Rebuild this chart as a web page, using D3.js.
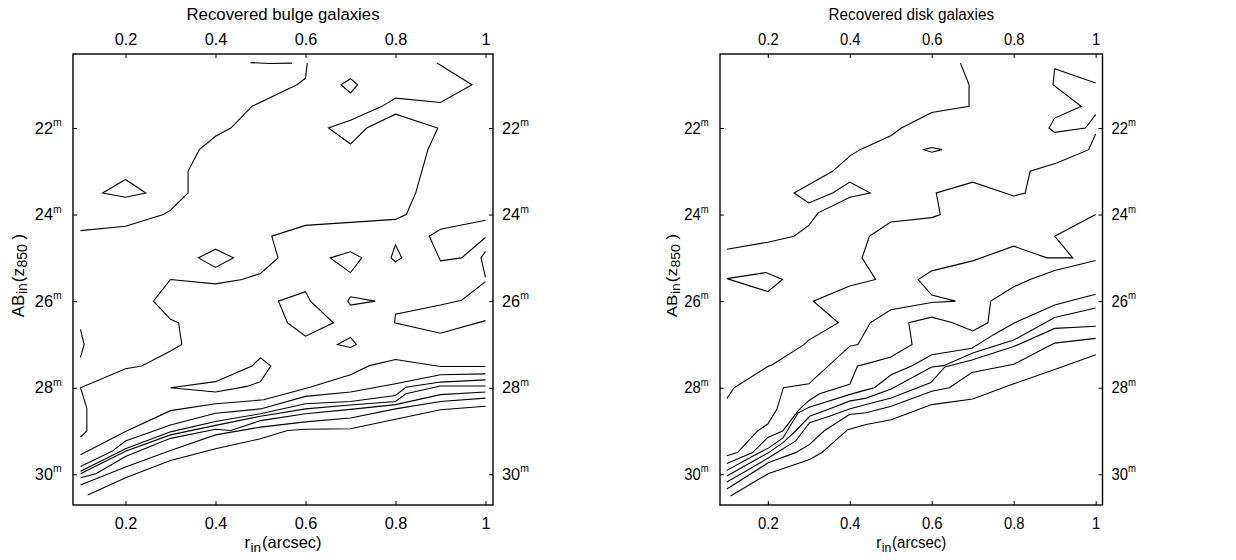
<!DOCTYPE html>
<html>
<head>
<meta charset="utf-8">
<script src="https://cdn.jsdelivr.net/npm/d3@7"></script>
<style>
  html, body { margin: 0; padding: 0; background: #fff; }
  svg { display: block; font-family: "Liberation Sans", Arial, Helvetica, sans-serif; }
</style>
</head>
<body>
<svg id="chart" width="1236" height="560"></svg>
<script>
// Axis values
const rTicks = [0.2, 0.4, 0.6, 0.8, 1];
const magTicks = [22, 24, 26, 28, 30];
const rDomain = [0.0833, 1.0167];
const magDomain = [20.29, 30.71];

// Contours of the bulge-galaxy recovery map, points are [r_in, AB_in]
const bulgeOpen = [
  [[0.604,20.5],[0.6,20.85],[0.581,21.0],[0.481,21.5],[0.434,22.0],[0.4,22.19],[0.364,22.5],[0.339,23.0],[0.339,23.5],[0.3,23.9],[0.284,24.0],[0.2,24.27],[0.1,24.37]],
  [[0.478,20.49],[0.52,20.51],[0.57,20.5]],
  [[0.892,20.5],[0.97,21.0],[0.9,21.41],[0.8,21.31],[0.77,21.5],[0.7,21.82],[0.651,22.0],[0.7,22.37],[0.736,22.0],[0.8,21.68],[0.894,22.0],[0.872,22.5],[0.845,23.5],[0.824,24.0],[0.8,24.11],[0.6,24.25],[0.525,24.5],[0.539,25.0],[0.5,25.36],[0.459,25.5],[0.4,25.6],[0.3,25.5],[0.262,26.0],[0.3,26.42],[0.318,26.5],[0.325,27.0],[0.3,27.15],[0.236,27.5],[0.2,27.56],[0.1,28.0],[0.114,28.47],[0.114,29.0],[0.1,29.14]],
  [[1.0,24.13],[0.9,24.34],[0.875,24.5],[0.9,25.07],[0.947,25.0],[1.0,24.53]],
  [[1.0,24.85],[0.99,25.0],[1.0,25.45]],
  [[1.0,25.55],[0.947,25.98],[0.9,26.09],[0.8,26.3],[0.798,26.5],[0.9,26.74],[1.0,26.45]],
  [[0.1,26.65],[0.108,27.0],[0.1,27.3]]
];
const bulgeClosed = [
  [[0.679,21.0],[0.7,20.86],[0.716,21.0],[0.7,21.19]],
  [[0.149,23.5],[0.2,23.19],[0.245,23.5],[0.2,23.6]],
  [[0.362,25.0],[0.4,24.8],[0.44,25.0],[0.4,25.22]],
  [[0.655,25.0],[0.7,24.86],[0.725,25.0],[0.7,25.34]],
  [[0.8,24.7],[0.814,25.0],[0.8,25.09],[0.79,25.0]],
  [[0.54,26.0],[0.6,25.78],[0.611,26.0],[0.662,26.5],[0.6,26.81],[0.56,26.5]],
  [[0.694,26.0],[0.7,25.9],[0.755,26.0],[0.7,26.09]],
  [[0.671,27.0],[0.7,26.84],[0.713,27.0],[0.7,27.07]],
  [[0.3,28.0],[0.4,27.86],[0.481,27.5],[0.5,27.31],[0.523,27.5],[0.5,27.86],[0.47,27.97],[0.4,28.1]]
];
const bulgeBand = [
  [[0.1,29.55],[0.2,29.01],[0.3,28.53],[0.4,28.37],[0.507,28.28],[0.61,27.99],[0.7,27.7],[0.742,27.49],[0.8,27.35],[0.9,27.51],[1.0,27.51]],
  [[0.1,29.82],[0.17,29.47],[0.2,29.23],[0.3,28.86],[0.4,28.59],[0.5,28.49],[0.6,28.2],[0.7,28.1],[0.8,27.91],[0.9,27.7],[1.0,27.68]],
  [[0.1,29.93],[0.2,29.41],[0.3,29.02],[0.4,28.78],[0.5,28.6],[0.6,28.37],[0.7,28.32],[0.8,28.18],[0.823,27.99],[0.9,27.87],[1.0,27.82]],
  [[0.1,29.99],[0.2,29.47],[0.3,29.09],[0.4,28.87],[0.5,28.66],[0.6,28.49],[0.7,28.4],[0.8,28.32],[0.823,28.14],[0.9,27.96],[1.0,27.96]],
  [[0.1,30.08],[0.134,29.99],[0.2,29.59],[0.3,29.17],[0.4,28.96],[0.434,28.99],[0.5,28.76],[0.6,28.6],[0.7,28.5],[0.8,28.39],[0.9,28.16],[1.0,28.1]],
  [[0.1,30.25],[0.2,29.83],[0.3,29.45],[0.4,29.09],[0.5,28.91],[0.6,28.79],[0.7,28.7],[0.8,28.49],[0.9,28.32],[1.0,28.24]],
  [[0.116,30.48],[0.2,30.08],[0.3,29.68],[0.4,29.41],[0.5,29.18],[0.56,28.99],[0.6,28.96],[0.7,28.95],[0.8,28.73],[0.9,28.51],[1.0,28.43]]
];

// Contours of the disk-galaxy recovery map
const diskOpen = [
  [[0.67,20.5],[0.691,21.0],[0.691,21.5],[0.6,21.64],[0.526,22.0],[0.5,22.18],[0.425,22.5],[0.4,22.65],[0.358,23.0],[0.264,23.5],[0.3,23.73],[0.358,23.5],[0.4,23.25],[0.45,23.5],[0.4,23.6],[0.323,23.96],[0.3,24.25],[0.264,24.5],[0.2,24.64],[0.1,24.8]],
  [[1.0,20.96],[0.9,20.63],[0.896,21.0],[0.965,21.5],[0.9,21.77],[0.886,22.0],[0.9,22.1],[0.975,22.0],[1.0,21.69]],
  [[1.0,22.14],[0.983,22.5],[0.905,22.81],[0.84,23.0],[0.828,23.5],[0.8,23.57],[0.7,23.25],[0.611,23.5],[0.621,24.0],[0.6,24.07],[0.5,24.17],[0.448,24.5],[0.43,25.0],[0.463,25.5],[0.4,25.65],[0.311,26.0],[0.372,26.5],[0.3,26.9],[0.289,27.0],[0.211,27.47],[0.2,27.51],[0.118,28.0],[0.1,28.25]],
  [[1.0,24.0],[0.9,24.5],[0.944,25.0],[0.881,25.0],[0.8,24.73],[0.7,25.07],[0.6,25.3],[0.567,25.5],[0.6,25.86],[0.658,26.0],[0.6,26.03],[0.5,26.2],[0.45,26.5],[0.42,27.0],[0.4,27.04],[0.3,27.91],[0.238,28.0],[0.222,28.5],[0.2,28.84],[0.175,29.0],[0.126,29.5],[0.1,29.57]],
  [[1.0,25.06],[0.9,25.29],[0.84,25.5],[0.8,25.67],[0.744,26.0],[0.737,26.5],[0.7,26.69],[0.651,26.5],[0.6,26.37],[0.544,26.5],[0.552,27.0],[0.5,27.29],[0.44,27.45],[0.419,27.5],[0.4,27.92],[0.326,28.14],[0.3,28.3],[0.277,28.5],[0.236,29.0],[0.2,29.15],[0.163,29.5],[0.1,29.75]]
];
const diskClosed = [
  [[0.58,22.5],[0.6,22.45],[0.625,22.5],[0.6,22.56]],
  [[0.1,25.48],[0.195,25.34],[0.236,25.5],[0.2,25.78]]
];
const diskBand = [
  [[0.1,29.91],[0.164,29.58],[0.202,29.39],[0.237,29.16],[0.274,28.58],[0.301,28.45],[0.399,28.16],[0.44,28.05],[0.46,28.0],[0.501,27.7],[0.552,27.49],[0.6,27.24],[0.698,27.09],[0.75,26.78],[0.8,26.51],[0.9,26.09],[1.0,25.84]],
  [[0.1,30.04],[0.202,29.5],[0.237,29.27],[0.268,29.0],[0.302,28.66],[0.35,28.49],[0.399,28.31],[0.44,28.24],[0.501,28.03],[0.6,27.52],[0.629,27.49],[0.7,27.2],[0.8,26.9],[0.9,26.38],[1.0,26.16]],
  [[0.1,30.18],[0.202,29.62],[0.268,29.23],[0.302,28.81],[0.35,28.66],[0.399,28.49],[0.44,28.39],[0.501,28.24],[0.598,27.88],[0.632,27.52],[0.698,27.36],[0.8,27.05],[0.9,26.63],[1.0,26.58]],
  [[0.1,30.34],[0.202,29.73],[0.268,29.5],[0.302,29.31],[0.337,29.0],[0.399,28.62],[0.44,28.58],[0.501,28.43],[0.6,28.08],[0.643,28.0],[0.698,27.65],[0.8,27.46],[0.9,26.97],[1.0,26.86]],
  [[0.109,30.5],[0.202,29.98],[0.302,29.66],[0.333,29.49],[0.395,28.97],[0.44,28.85],[0.501,28.74],[0.6,28.39],[0.7,28.26],[0.8,27.91],[0.9,27.58],[1.0,27.24]]
];

const svg = d3.select("#chart");

// The second panel is horizontally narrower, so its lettering is condensed (sx)
const panels = [
  { title: "Recovered bulge galaxies", left: 73, right: 493, ylabelX: 23.5, sx: 1,
    open: bulgeOpen, closed: bulgeClosed, band: bulgeBand },
  { title: "Recovered disk galaxies", left: 720, right: 1102.5, ylabelX: 677, sx: 0.91,
    open: diskOpen, closed: diskClosed, band: diskBand }
];
const plotTop = 54, plotBottom = 505;
const FONT = 16.3;

panels.forEach(p => {
  const x = d3.scaleLinear().domain(rDomain).range([p.left, p.right]);
  const y = d3.scaleLinear().domain(magDomain).range([plotTop, plotBottom]);
  const g = svg.append("g");
  const cx = (p.left + p.right) / 2;
  const sx = p.sx;

  const fmtR = d => (d === 1 ? "1" : d3.format(".1f")(d));

  // axes with inward ticks on all four sides
  const axTop = g.append("g").attr("transform", `translate(0,${plotTop})`)
    .call(d3.axisTop(x).tickValues(rTicks).tickFormat(fmtR).tickSize(-4).tickPadding(9));
  const axBot = g.append("g").attr("transform", `translate(0,${plotBottom})`)
    .call(d3.axisBottom(x).tickValues(rTicks).tickFormat(fmtR).tickSize(-4).tickPadding(12));
  const axLeft = g.append("g").attr("transform", `translate(${p.left},0)`)
    .call(d3.axisLeft(y).tickValues(magTicks).tickSize(-4).tickPadding(11.3 / sx));
  const axRight = g.append("g").attr("transform", `translate(${p.right},0)`)
    .call(d3.axisRight(y).tickValues(magTicks).tickSize(-4).tickPadding(9 / sx));

  [axTop, axBot, axLeft, axRight].forEach(a => {
    a.select(".domain").remove();
    a.selectAll("line").attr("stroke", "#000").attr("stroke-width", 1);
    a.selectAll("text").attr("font-size", FONT).attr("fill", "#000")
      .attr("font-family", "'Liberation Sans', Arial, sans-serif")
      .attr("transform", `scale(${sx},1)`);
  });
  [axLeft, axRight].forEach(a => {
    a.selectAll("text").each(function(d) {
      const t = d3.select(this).text("");
      t.append("tspan").text(d);
      t.append("tspan").attr("font-size", 10.5).attr("dy", -7.5).text("m");
    });
  });

  // frame
  g.append("rect").attr("x", p.left).attr("y", plotTop)
    .attr("width", p.right - p.left).attr("height", plotBottom - plotTop)
    .attr("fill", "none").attr("stroke", "#000").attr("stroke-width", 1.4);

  // contour lines
  const line = d3.line().x(d => x(d[0])).y(d => y(d[1]));
  const ring = d3.line().x(d => x(d[0])).y(d => y(d[1])).curve(d3.curveLinearClosed);
  const cg = g.append("g").attr("fill", "none").attr("stroke", "#000")
    .attr("stroke-width", 1.1).attr("stroke-linejoin", "miter");
  cg.selectAll("path.open").data(p.open.concat(p.band)).join("path")
    .attr("class", "open").attr("d", line);
  cg.selectAll("path.closed").data(p.closed).join("path")
    .attr("class", "closed").attr("d", ring);

  // title
  g.append("text").attr("transform", `translate(${cx},20) scale(${sx},1)`)
    .attr("text-anchor", "middle").attr("font-size", 16.8).text(p.title);

  // x label: r_in (arcsec)
  const xl = g.append("text").attr("transform", `translate(${cx},548) scale(${sx},1)`)
    .attr("text-anchor", "middle").attr("font-size", 16.5);
  xl.append("tspan").text("r");
  xl.append("tspan").attr("font-size", 13.5).attr("dx", 0.5).attr("dy", 3.5).text("in");
  xl.append("tspan").attr("dx", 1).attr("dy", -3.5).text("(arcsec)");

  // y label: AB_in (z_850)
  const yl = g.append("text").attr("text-anchor", "middle").attr("font-size", 17)
    .attr("transform", `translate(${p.ylabelX},${(plotTop + plotBottom) / 2 - 4}) scale(${sx},1) rotate(-90)`);
  yl.append("tspan").text("AB");
  yl.append("tspan").attr("font-size", 14).attr("dx", 0.5).attr("dy", 3.5).text("in");
  yl.append("tspan").attr("dx", 1).attr("dy", -3.5).text("(z");
  yl.append("tspan").attr("font-size", 14).attr("dx", 0.5).attr("dy", 3.5).text("850");
  yl.append("tspan").attr("dy", -3.5).text(" )");
});
</script>
</body>
</html>
